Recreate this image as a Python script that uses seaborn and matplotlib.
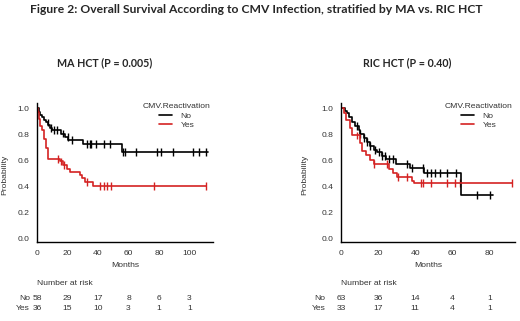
import numpy as np
import pandas as pd
import matplotlib
matplotlib.use('Agg')
import matplotlib.pyplot as plt
import matplotlib.transforms as mtransforms
import seaborn as sns

# Kaplan-Meier step data (months, survival probability)
MA_NO_T = [0, 1.0, 2.0, 3.0, 4.6, 6.0, 7.4, 8.5, 9.6, 16.0, 18.4, 20.5, 30.4, 55.5]
MA_NO_S = [1.0, 0.97, 0.95, 0.93, 0.91, 0.89, 0.87, 0.85, 0.83, 0.805, 0.78, 0.755, 0.723, 0.664]
MA_NO_END = 112
MA_NO_CENS = [7.2, 9, 11, 13, 17, 20, 23, 33, 34.5, 35.6, 38.9, 44, 47.6, 56.5, 57.4,
              65, 79, 81, 89, 102, 106.5, 111]

MA_YES_T = [0, 0.7, 1.3, 1.7, 3.5, 4.6, 6.1, 7.4, 15.0, 17.3, 19.5, 21.6, 28.2, 29.3, 31.5, 37.0]
MA_YES_S = [1.0, 0.97, 0.92, 0.86, 0.83, 0.76, 0.69, 0.61, 0.59, 0.565, 0.535, 0.51,
            0.485, 0.46, 0.435, 0.40]
MA_YES_END = 110.5
MA_YES_CENS = [13.8, 16, 18, 33, 41, 44, 46, 48.7, 77, 110.5]

RIC_NO_T = [0, 2.2, 3.5, 4.5, 5.8, 7.7, 9.5, 10.4, 12.2, 14.0, 15.8, 17.6, 19.4, 22.0,
            24.4, 29.8, 37.3, 44.5, 64.6]
RIC_NO_S = [1.0, 0.98, 0.96, 0.93, 0.89, 0.86, 0.83, 0.80, 0.77, 0.74, 0.71, 0.68, 0.66,
            0.635, 0.61, 0.57, 0.54, 0.50, 0.33]
RIC_NO_END = 82
RIC_NO_CENS = [8.6, 10.4, 12.2, 14, 15.8, 18.5, 20.3, 22, 23.9, 25.6, 28, 35.5, 38.2,
               44.1, 46.3, 48.4, 50.8, 53.5, 57, 62, 73.2, 80.4]

RIC_YES_T = [0, 1.4, 2.9, 4.7, 5.9, 10.0, 11.3, 13.6, 15.4, 17.6, 25.6, 28.0, 30.1, 38.2, 39.5]
RIC_YES_S = [1.0, 0.96, 0.91, 0.85, 0.79, 0.73, 0.67, 0.64, 0.60, 0.57, 0.53, 0.50, 0.47,
             0.44, 0.425]
RIC_YES_END = 92
RIC_YES_CENS = [8.6, 17.6, 24.8, 30.5, 35.5, 43.2, 44, 48.6, 57, 61.5, 64.2, 92]

# number at risk tables
MA_RISK_T = [0, 20, 40, 60, 80, 100]
MA_RISK_NO = [58, 29, 17, 8, 6, 3]
MA_RISK_YES = [36, 15, 10, 3, 1, 1]
RIC_RISK_T = [0, 20, 40, 60, 80]
RIC_RISK_NO = [63, 36, 14, 4, 1]
RIC_RISK_YES = [33, 17, 11, 4, 1]

PAL = {'No': 'black', 'Yes': '#d42222'}
HUE = 'CMV.Reactivation'
FS = 6.1
TXT = '#333333'


def km_frames(groups):
    lines, marks = [], []
    for name, t, s, end, cens in groups:
        tt = list(t) + [end]
        ss = list(s) + [s[-1]]
        lines.append(pd.DataFrame({'Months': tt, 'Probability': ss, HUE: name}))
        idx = np.searchsorted(np.array(t), np.array(cens), side='right') - 1
        marks.append(pd.DataFrame({'Months': cens, 'Probability': np.array(s)[idx], HUE: name}))
    return pd.concat(lines), pd.concat(marks)


def draw_panel(ax, groups, xmax, risk_t, risk_no, risk_yes, lab_x, ylab_x, leg_x):
    lines, marks = km_frames(groups)
    sns.lineplot(data=lines, x='Months', y='Probability', hue=HUE, palette=PAL,
                 drawstyle='steps-post', estimator=None, lw=1.2, ax=ax)
    sns.scatterplot(data=marks, x='Months', y='Probability', hue=HUE, palette=PAL,
                    marker='|', s=32, linewidth=1.0, legend=False, ax=ax)
    ax.set_xlim(0, xmax)
    ax.set_ylim(-0.03, 1.04)
    ax.set_yticks(np.arange(0, 1.01, 0.2))
    ax.set_yticklabels(['%.1f' % v for v in np.arange(0, 1.01, 0.2)])
    ax.set_xticks(risk_t)
    sns.despine(ax=ax)
    for sp in ['left', 'bottom']:
        ax.spines[sp].set_linewidth(1.0)
        ax.spines[sp].set_color('black')
    ax.tick_params(length=2.5, width=0.8, labelsize=FS, labelcolor=TXT, pad=3)
    ax.set_xlabel('Months', fontsize=FS, color=TXT, labelpad=4)
    ax.set_ylabel('Probability', fontsize=FS, color=TXT)
    ax.yaxis.set_label_coords(ylab_x, 0.48)
    sns.move_legend(ax, 'upper left', bbox_to_anchor=(leg_x, 1.0), frameon=False,
                    title=HUE, fontsize=FS, title_fontsize=FS, handlelength=1.6,
                    handletextpad=1.0, labelspacing=0.2, borderpad=0, borderaxespad=0)
    leg = ax.get_legend()
    for t in leg.get_texts():
        t.set_color(TXT)
    leg.get_title().set_color(TXT)
    for h in leg.legend_handles:
        h.set_linewidth(1.2)

    tr = mtransforms.blended_transform_factory(ax.transData, ax.transAxes)
    ax.text(0, -0.295, 'Number at risk', transform=tr, fontsize=FS, color=TXT,
            ha='left', va='center')
    for x, n in zip(risk_t, risk_no):
        ax.text(x, -0.41, str(n), transform=tr, fontsize=FS, color=TXT,
                ha='center', va='center')
    for x, n in zip(risk_t, risk_yes):
        ax.text(x, -0.482, str(n), transform=tr, fontsize=FS, color=TXT,
                ha='center', va='center')
    ax.text(lab_x, -0.41, 'No', transform=ax.transAxes, fontsize=FS, color=TXT,
            ha='right', va='center')
    ax.text(lab_x, -0.482, 'Yes', transform=ax.transAxes, fontsize=FS, color=TXT,
            ha='right', va='center')


sns.set_style('white')
plt.rcParams['font.family'] = ['Liberation Sans', 'DejaVu Sans']

fig = plt.figure(figsize=(5.2, 3.21), dpi=100)
ax1 = fig.add_axes([37 / 520, 1 - 242 / 321, 176 / 520, 139 / 321])
ax2 = fig.add_axes([341 / 520, 1 - 242 / 321, 174 / 520, 139 / 321])

draw_panel(ax1,
           [('No', MA_NO_T, MA_NO_S, MA_NO_END, MA_NO_CENS),
            ('Yes', MA_YES_T, MA_YES_S, MA_YES_END, MA_YES_CENS)],
           115.4, MA_RISK_T, MA_RISK_NO, MA_RISK_YES, -0.04, -0.165, 0.60)
draw_panel(ax2,
           [('No', RIC_NO_T, RIC_NO_S, RIC_NO_END, RIC_NO_CENS),
            ('Yes', RIC_YES_T, RIC_YES_S, RIC_YES_END, RIC_YES_CENS)],
           93.7, RIC_RISK_T, RIC_RISK_NO, RIC_RISK_YES, -0.09, -0.19, 0.595)

fig.text(0.492, 0.969, 'Figure 2: Overall Survival According to CMV Infection, stratified by MA vs. RIC HCT',
         ha='center', va='center', fontsize=8.7, fontweight='bold', family=['Lato', 'DejaVu Sans'])
fig.text(0.202, 0.804, 'MA HCT (P = 0.005)', ha='center', va='center', fontsize=7.7,
         fontweight='bold', family=['Lato', 'DejaVu Sans'])
fig.text(0.784, 0.804, 'RIC HCT (P = 0.40)', ha='center', va='center', fontsize=7.7,
         fontweight='bold', family=['Lato', 'DejaVu Sans'])

fig.savefig('out.png', dpi=100)
